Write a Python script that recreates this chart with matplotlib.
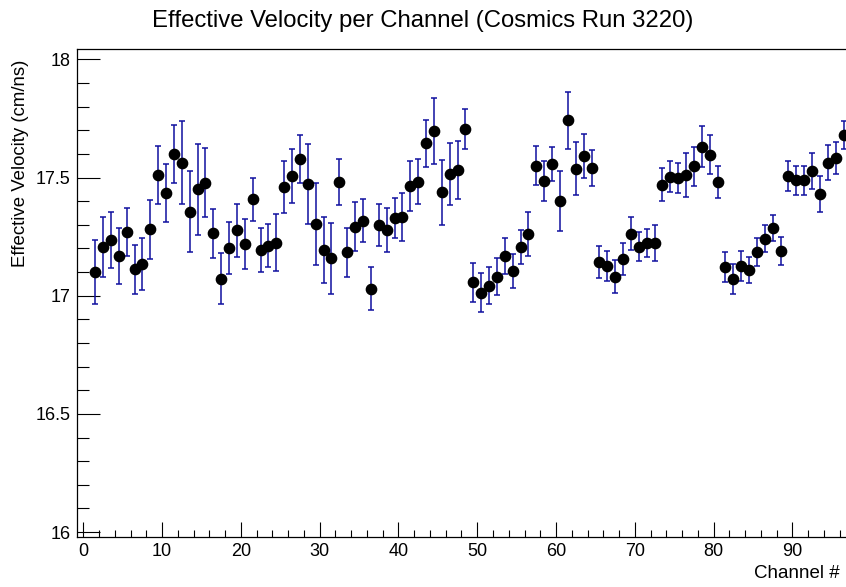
"""
Effective velocity per channel for cosmics run 3220.
"""

import matplotlib
matplotlib.use("Agg")
import matplotlib.pyplot as plt
from matplotlib.ticker import MultipleLocator
import numpy as np

channels = list(range(1, 97))

velocity = [
    17.102, 17.208, 17.236, 17.168, 17.270, 17.112, 17.135, 17.281, 17.511, 17.434,
    17.599, 17.563, 17.356, 17.451, 17.479, 17.264, 17.072, 17.202, 17.276, 17.219,
    17.408, 17.194, 17.212, 17.225, 17.459, 17.507, 17.579, 17.472, 17.304, 17.193,
    17.159, 17.482, 17.184, 17.292, 17.318, 17.030, 17.300, 17.278, 17.328, 17.332,
    17.463, 17.483, 17.645, 17.696, 17.438, 17.515, 17.532, 17.705, 17.057, 17.013,
    17.043, 17.081, 17.168, 17.104, 17.207, 17.262, 17.551, 17.486, 17.559, 17.400,
    17.743, 17.538, 17.590, 17.541, 17.143, 17.125, 17.081, 17.156, 17.262, 17.207,
    17.224, 17.225, 17.469, 17.503, 17.499, 17.511, 17.547, 17.631, 17.597, 17.482,
    17.121, 17.070, 17.126, 17.108, 17.185, 17.242, 17.288, 17.191, 17.507, 17.489,
    17.489, 17.529, 17.430, 17.563, 17.584, 17.679,
]

velocity_err = [
    0.135, 0.127, 0.120, 0.120, 0.103, 0.103, 0.110, 0.124, 0.124, 0.124,
    0.122, 0.175, 0.172, 0.193, 0.144, 0.105, 0.107, 0.112, 0.111, 0.105,
    0.091, 0.092, 0.090, 0.120, 0.110, 0.113, 0.100, 0.170, 0.172, 0.140,
    0.150, 0.098, 0.104, 0.104, 0.090, 0.091, 0.090, 0.092, 0.085, 0.102,
    0.105, 0.097, 0.100, 0.140, 0.137, 0.133, 0.124, 0.084, 0.083, 0.082,
    0.080, 0.078, 0.078, 0.072, 0.073, 0.094, 0.084, 0.086, 0.072, 0.128,
    0.121, 0.112, 0.093, 0.077, 0.068, 0.063, 0.069, 0.067, 0.070, 0.062,
    0.060, 0.076, 0.070, 0.065, 0.064, 0.092, 0.084, 0.086, 0.082, 0.067,
    0.063, 0.063, 0.062, 0.055, 0.061, 0.059, 0.055, 0.059, 0.065, 0.062,
    0.062, 0.077, 0.077, 0.074, 0.068, 0.060,
]

plt.rcParams["font.family"] = ["Liberation Sans", "DejaVu Sans"]

fig = plt.figure(figsize=(8.46, 5.87), dpi=100)
ax = fig.add_axes([77.3 / 846, 1 - 537 / 587, 1 - 77.3 / 846, (537 - 49) / 587])

# points sit at the bin centres
x = np.array(channels) + 0.5
ax.errorbar(x, velocity, yerr=velocity_err, fmt="o", color="black",
            ecolor="#10109f", elinewidth=1.1, capsize=2.3, capthick=1.1,
            markersize=7.4, zorder=3)

ax.set_xlim(-0.76, 96.8)
ax.set_ylim(15.979, 18.044)

ax.xaxis.set_major_locator(MultipleLocator(10))
ax.xaxis.set_minor_locator(MultipleLocator(2))
ax.yaxis.set_major_locator(MultipleLocator(0.5))
ax.yaxis.set_minor_locator(MultipleLocator(0.1))
ax.yaxis.set_major_formatter(plt.FuncFormatter(lambda v, p: f"{v:g}"))

ax.tick_params(axis="both", which="both", direction="in", width=0.8,
               labelsize=13, top=False, right=False)
ax.tick_params(axis="y", which="major", length=16.5, pad=5)
ax.tick_params(axis="y", which="minor", length=8.6)
ax.tick_params(axis="x", which="major", length=10.8, pad=4)
ax.tick_params(axis="x", which="minor", length=5)

ax.spines["right"].set_visible(False)
for side in ("left", "bottom", "top"):
    ax.spines[side].set_linewidth(0.9)
    ax.spines[side].set_color("black")

fig.text(0.5, 1 - 21 / 587, "Effective Velocity per Channel (Cosmics Run 3220)",
         ha="center", va="center", fontsize=17.2)
fig.text(21 / 846, 1 - 60 / 587, "Effective Velocity (cm/ns)",
         rotation=90, ha="center", va="top", fontsize=13.4)
fig.text(840 / 846, 1 - 578 / 587, "Channel #",
         ha="right", va="baseline", fontsize=13.5)

fig.savefig("out.png", dpi=100)
